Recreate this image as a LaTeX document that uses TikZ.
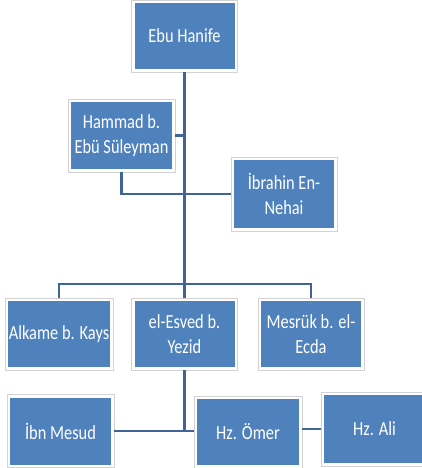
\documentclass[tikz,border=0pt]{standalone}
\usepackage{fontspec}
\setmainfont{Carlito}[FakeStretch=0.82]
\definecolor{boxblue}{RGB}{79,129,189}
\definecolor{linkblue}{RGB}{62,100,152}
\tikzset{
  tbox/.style={rectangle, draw=gray!35, line width=0.6pt, fill=white, inner sep=0pt,
    text=white, align=center, font=\fontsize{20}{25}\selectfont,
    path picture={\fill[boxblue] ([shift={(3pt,3pt)}]path picture bounding box.south west)
      rectangle ([shift={(-3pt,-3pt)}]path picture bounding box.north east);}},
  link/.style={draw=linkblue, line width=2.8pt}
}
\begin{document}
\begin{tikzpicture}[x=1pt,y=-1pt]
\useasboundingbox (0,0) rectangle (422,468);
\clip (0,0) rectangle (422,468);
\node[tbox, minimum width=106pt, minimum height=72pt] (eh) at (184.5,36) {Ebu Hanife};
\node[tbox, minimum width=107pt, minimum height=73pt] (hm) at (121.5,135.5) {Hammad b.\\Ebü Süleyman};
\node[tbox, minimum width=106pt, minimum height=74pt] (ib) at (284,194) {İbrahin En-\\Nehai};
\node[tbox, minimum width=108pt, minimum height=72pt] (al) at (59,334) {Alkame b. Kays};
\node[tbox, minimum width=106pt, minimum height=72pt] (es) at (184.5,334) {el-Esved b.\\Yezid};
\node[tbox, minimum width=106pt, minimum height=72pt] (me) at (311,334) {Mesrük b. el-\\Ecda};
\node[tbox, minimum width=107pt, minimum height=73pt] (im) at (60.5,431) {İbn Mesud};
\node[tbox, minimum width=108pt, minimum height=72pt] (om) at (248,432) {Hz. Ömer};
\node[tbox, minimum width=107pt, minimum height=74pt] (ali) at (374.5,429) {Hz. Ali};
\coordinate (bar) at (184.5,284);
\coordinate (j) at (184.5,431);
% links
\draw[link] (eh.south) -- (es.north);
\draw[link] (hm.east) -- (hm.east -| eh.south);
\draw[link] (hm.south) |- (ib.west);
\draw[link] (al.north) -- (al.north |- bar) -- (me.north |- bar) -- (me.north);
\draw[link] (es.south) -- (j);
\draw[link] (im.east) -- (im.east -| j);
\draw[link] (j) -- (j -| om.west);
\draw[link] (om.east |- ali.west) -- (ali.west);
\end{tikzpicture}
\end{document}
